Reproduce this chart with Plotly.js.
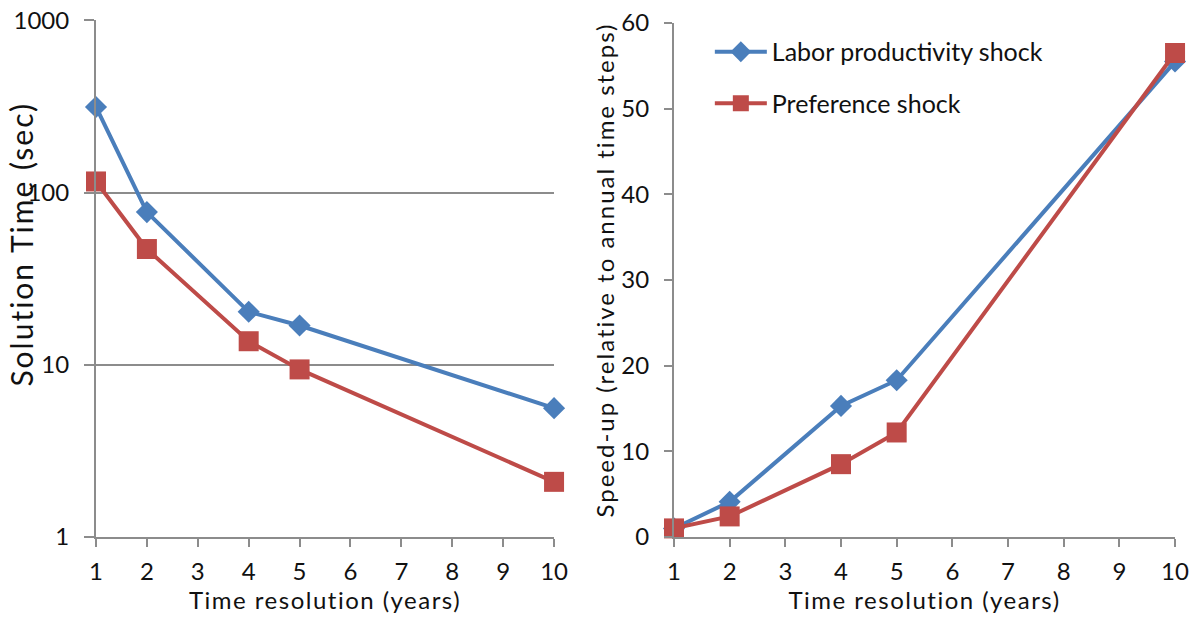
<!DOCTYPE html>
<html>
<head>
<meta charset="utf-8">
<script src="https://cdn.plot.ly/plotly-3.0.1.min.js"></script>
<style>
html,body{margin:0;padding:0;background:#fff;}
#chart{width:1191px;height:617px;}
#chart .xtitle, #chart .x2title {letter-spacing:1.5px;}
#chart .annotation-text {letter-spacing:2px;}
</style>
</head>
<body>
<div id="chart"></div>
<script>
const resolution = [1, 2, 4, 5, 10];
const laborTime = [314, 77, 20.3, 16.9, 5.6];
const prefTime = [116, 47, 13.7, 9.4, 2.09];
const laborSpeedup = [1.0, 4.1, 15.3, 18.3, 55.5];
const prefSpeedup = [1.0, 2.4, 8.5, 12.2, 56.5];
const seriesNames = ['Labor productivity shock', 'Preference shock'];
const xTicks = [1,2,3,4,5,6,7,8,9,10];
const logTicks = [1, 10, 100, 1000];
const linTicks = [0, 10, 20, 30, 40, 50, 60];
const yTitles = ['Solution Time (sec)', 'Speed-up (relative to annual time steps)'];
const xTitle = 'Time resolution (years)';

const blue = '#4A7EBB', red = '#BE4B48', axisGray = '#8c8c8c', textColor = '#111';
const FONT = 'Lato, "Open Sans", sans-serif';

const blueLine = {color: blue, width: 4};
const redLine = {color: red, width: 4};
const blueMarker = {symbol: 'diamond', size: 17, color: blue};
const redMarker = {symbol: 'square', size: 20, color: red};

const traces = [
  {x: resolution, y: laborTime, xaxis: 'x', yaxis: 'y', mode: 'lines+markers', line: blueLine, marker: blueMarker, showlegend: false, cliponaxis: false, name: seriesNames[0]},
  {x: resolution, y: prefTime, xaxis: 'x', yaxis: 'y', mode: 'lines+markers', line: redLine, marker: redMarker, showlegend: false, cliponaxis: false, name: seriesNames[1]},
  {x: resolution, y: laborSpeedup, xaxis: 'x2', yaxis: 'y2', mode: 'lines+markers', line: blueLine, marker: blueMarker, name: seriesNames[0], legendgroup: 'a', cliponaxis: false},
  {x: resolution, y: prefSpeedup, xaxis: 'x2', yaxis: 'y2', mode: 'lines+markers', line: redLine, marker: redMarker, name: seriesNames[1], legendgroup: 'b', cliponaxis: false}
];

const tickFont = {size: 24, color: textColor, family: FONT};
const xCommon = {
  range: [1, 10], tickvals: xTicks, ticks: 'outside', ticklen: 8, tickcolor: axisGray, tickwidth: 2,
  showline: true, linecolor: axisGray, linewidth: 2, showgrid: false, zeroline: false,
  tickfont: tickFont, ticklabelstandoff: 4,
  title: {text: xTitle, font: {size: 24, color: textColor, family: FONT}, standoff: 7}
};

const layout = {
  width: 1191, height: 617,
  margin: {l: 0, r: 0, t: 0, b: 0},
  paper_bgcolor: '#fff', plot_bgcolor: '#fff',
  font: {family: FONT, color: textColor},
  showlegend: true,
  legend: {x: 0.596, y: 0.953, xanchor: 'left', yanchor: 'top', traceorder: 'grouped', tracegroupgap: 16,
           font: {size: 25, family: FONT, color: textColor}, bgcolor: 'rgba(0,0,0,0)', itemwidth: 52},
  xaxis: Object.assign({}, xCommon, {domain: [0.0806, 0.4652], anchor: 'y'}),
  xaxis2: Object.assign({}, xCommon, {domain: [0.5659, 0.9866], anchor: 'y2'}),
  yaxis: {
    domain: [0.1297, 0.967], anchor: 'x', type: 'log', range: [0, 3], tickvals: logTicks, ticktext: logTicks.map(String),
    ticks: 'outside', ticklen: 10, tickcolor: axisGray, tickwidth: 2,
    showline: true, linecolor: axisGray, linewidth: 2, showgrid: true, gridcolor: axisGray, gridwidth: 2, zeroline: false,
    tickfont: tickFont, ticklabelstandoff: 10
  },
  yaxis2: {
    domain: [0.1297, 0.9627], anchor: 'x2', range: [0, 60], tickvals: linTicks,
    ticks: 'outside', ticklen: 8, tickcolor: axisGray, tickwidth: 2,
    showline: true, linecolor: axisGray, linewidth: 2, showgrid: false, zeroline: false,
    tickfont: tickFont, ticklabelstandoff: 10
  },
  annotations: [
    {text: yTitles[0], xref: 'paper', yref: 'paper', x: 0.0175, y: 0.6045, xanchor: 'center', yanchor: 'middle',
     textangle: -90, showarrow: false, font: {size: 30, color: textColor, family: FONT}},
    {text: yTitles[1], xref: 'paper', yref: 'paper', x: 0.508, y: 0.5625, xanchor: 'center', yanchor: 'middle',
     textangle: -90, showarrow: false, font: {size: 24, color: textColor, family: FONT}}
  ]
};

Plotly.newPlot('chart', traces, layout, {displayModeBar: false, staticPlot: true});
</script>
</body>
</html>
